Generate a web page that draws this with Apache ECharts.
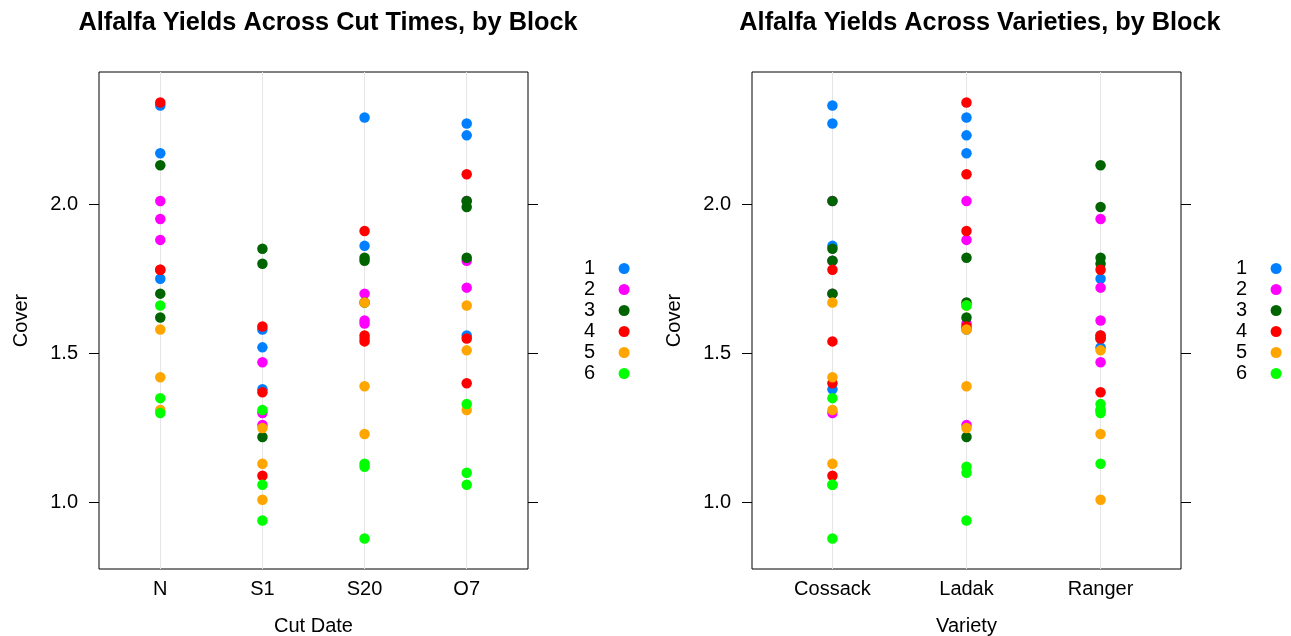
<!DOCTYPE html>
<html><head><meta charset="utf-8">
<script src="https://cdn.jsdelivr.net/npm/echarts@6/dist/echarts.min.js"></script>
<style>html,body{margin:0;padding:0;background:#fff}#c{width:1291px;height:636px}</style>
</head><body><div id="c"></div>
<script>
// ---- data ----
const dates = ['N', 'S1', 'S20', 'O7'];
const varieties = ['Cossack', 'Ladak', 'Ranger'];
const blocks = ['1', '2', '3', '4', '5', '6'];
const yTicks = [1.0, 1.5, 2.0];
// rows = block 1..6, columns = cut date N, S1, S20, O7
const cossack = [
  [2.33, 1.38, 1.86, 2.27],
  [2.01, 1.30, 1.70, 1.81],
  [1.70, 1.85, 1.81, 2.01],
  [1.78, 1.09, 1.54, 1.40],
  [1.42, 1.13, 1.67, 1.31],
  [1.35, 1.06, 0.88, 1.06]
];
const ladak = [
  [2.17, 1.58, 2.29, 2.23],
  [1.88, 1.26, 1.60, 2.01],
  [1.62, 1.22, 1.67, 1.82],
  [2.34, 1.59, 1.91, 2.10],
  [1.58, 1.25, 1.39, 1.66],
  [1.66, 0.94, 1.12, 1.10]
];
const ranger = [
  [1.75, 1.52, 1.55, 1.56],
  [1.95, 1.47, 1.61, 1.72],
  [2.13, 1.80, 1.82, 1.99],
  [1.78, 1.37, 1.56, 1.55],
  [1.31, 1.01, 1.23, 1.51],
  [1.30, 1.31, 1.13, 1.33]
];
const byVariety = [cossack, ladak, ranger];

// ---- styling ----
const blockColors = ['#0080ff', '#ff00ff', '#006400', '#ff0000', '#ffa500', '#00ff00'];
const FONT = '"Liberation Sans", Arial, Helvetica, sans-serif';

let all = [];
byVariety.forEach(v => v.forEach(r => all = all.concat(r)));
const dMin = Math.min(...all), dMax = Math.max(...all);
const pad = 0.07 * (dMax - dMin);
const yMin = dMin - pad, yMax = dMax + pad;

const grids = [
  { left: 99, top: 72, width: 429, height: 497 },
  { left: 752, top: 72, width: 429, height: 497 }
];

function xAxisFor(gi, cats, name) {
  return {
    type: 'value', gridIndex: gi, min: 0.4, max: cats.length + 0.6,
    axisLine: { show: false }, axisTick: { show: false }, splitLine: { show: false },
    axisLabel: {
      customValues: cats.map((c, i) => i + 1),
      formatter: v => cats[Math.round(v) - 1],
      fontSize: 20, color: '#000', fontFamily: FONT, margin: 10
    },
    name: name, nameLocation: 'middle', nameGap: 47,
    nameTextStyle: { fontSize: 20, color: '#000', fontFamily: FONT }
  };
}
function yAxisFor(gi, pos, withLabels) {
  return {
    type: 'value', gridIndex: gi, position: pos, min: yMin, max: yMax,
    axisLine: { show: false }, splitLine: { show: false },
    axisTick: { show: true, customValues: yTicks, length: 10, inside: false, lineStyle: { color: '#000', width: 1 } },
    axisLabel: {
      show: withLabels, customValues: yTicks, formatter: v => v.toFixed(1),
      fontSize: 20, color: '#000', fontFamily: FONT, margin: 21
    },
    name: withLabels ? 'Cover' : '', nameLocation: 'middle', nameGap: 68,
    nameTextStyle: { fontSize: 20, color: '#000', fontFamily: FONT }
  };
}

const series = [];
// vertical reference lines at each category
[[0, dates], [1, varieties]].forEach(([gi, cats]) => {
  series.push({
    type: 'scatter', xAxisIndex: gi, yAxisIndex: gi * 2, data: [], silent: true, z: 1,
    markLine: {
      silent: true, symbol: 'none', label: { show: false }, animation: false, z: 1,
      lineStyle: { color: '#e6e6e6', width: 1, type: 'solid' },
      data: cats.map((c, i) => ({ xAxis: i + 1 }))
    }
  });
});
// left panel: by cut date
blocks.forEach((b, bi) => {
  const pts = [];
  byVariety.forEach(v => v[bi].forEach((val, di) => pts.push([di + 1, val])));
  series.push({
    name: b, type: 'scatter', xAxisIndex: 0, yAxisIndex: 0, z: 6,
    symbol: 'circle', symbolSize: 10.5, data: pts,
    itemStyle: { color: blockColors[bi], opacity: 1 }
  });
});
// right panel: by variety
blocks.forEach((b, bi) => {
  const pts = [];
  byVariety.forEach((v, vi) => v[bi].forEach(val => pts.push([vi + 1, val])));
  series.push({
    name: b, type: 'scatter', xAxisIndex: 1, yAxisIndex: 2, z: 6,
    symbol: 'circle', symbolSize: 10.5, data: pts,
    itemStyle: { color: blockColors[bi], opacity: 1 }
  });
});

function legendAt(left) {
  return {
    data: blocks, left: left, top: 258, orient: 'vertical', align: 'right',
    icon: 'circle', itemWidth: 48, itemHeight: 11, itemGap: 0, selectedMode: false,
    padding: 0,
    textStyle: { fontSize: 20, lineHeight: 21, color: '#000', fontFamily: FONT }
  };
}

const chart = echarts.init(document.getElementById('c'));
chart.setOption({
  animation: false,
  backgroundColor: '#fff',
  title: [
    { text: 'Alfalfa Yields Across Cut Times, by Block', left: 323, top: 6, textAlign: 'center',
      textStyle: { fontSize: 25.3, fontWeight: 'bold', color: '#000', fontFamily: FONT } },
    { text: 'Alfalfa Yields Across Varieties, by Block', left: 975, top: 6, textAlign: 'center',
      textStyle: { fontSize: 25.3, fontWeight: 'bold', color: '#000', fontFamily: FONT } }
  ],
  grid: grids.map(g => Object.assign({ show: true, borderColor: '#000', borderWidth: 1, backgroundColor: 'transparent', outerBoundsMode: 'none', containLabel: false }, g)),
  xAxis: [xAxisFor(0, dates, 'Cut Date'), xAxisFor(1, varieties, 'Variety')],
  yAxis: [yAxisFor(0, 'left', true), yAxisFor(0, 'right', false), yAxisFor(1, 'left', true), yAxisFor(1, 'right', false)],
  legend: [legendAt(584), legendAt(1236)],
  series: series
});
</script>
</body></html>
